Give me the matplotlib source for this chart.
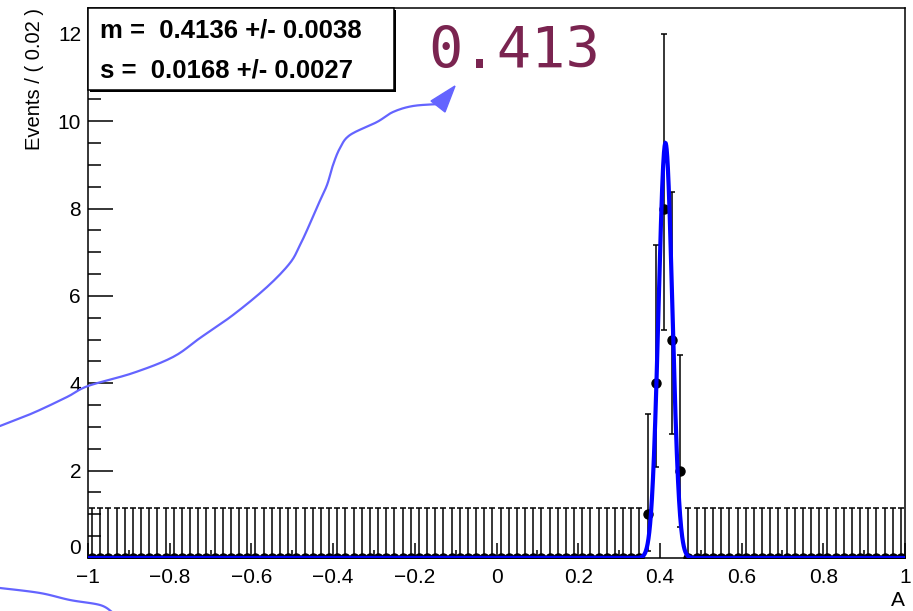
import matplotlib.pyplot as plt
import numpy as np
from matplotlib.patches import Rectangle, Polygon

plt.rcParams['font.family'] = ['Liberation Sans', 'DejaVu Sans']

# histogram of A, 100 bins of width 0.02 on [-1, 1]
bin_edges = np.linspace(-1, 1, 101)
peak_centers = [0.37, 0.39, 0.41, 0.43, 0.45]
peak_counts = [1, 4, 8, 5, 2]
peak_err_lo = [0.83, 1.91, 2.79, 2.16, 1.29]
peak_err_hi = [2.30, 3.16, 3.99, 3.38, 2.64]
empty_err_hi = 1.15

# gaussian fit result
m_fit, m_err = 0.4136, 0.0038
s_fit, s_err = 0.0168, 0.0027

x_ticks = [-1, -0.8, -0.6, -0.4, -0.2, 0, 0.2, 0.4, 0.6, 0.8, 1]
x_ticklabels = ['\u22121', '\u22120.8', '\u22120.6', '\u22120.4', '\u22120.2',
                '0', '0.2', '0.4', '0.6', '0.8', '1']
y_ticks = [0, 2, 4, 6, 8, 10, 12]

# pen strokes drawn over the plot (figure pixels)
stroke_main = [(0, 426), (33, 413), (67, 397), (88, 386), (133, 373), (173, 357),
               (200, 338), (233, 315), (267, 287), (290, 263), (300, 245),
               (308, 228), (318, 205), (327, 185), (333, 165), (340, 148),
               (350, 135), (377, 122), (393, 112), (413, 106), (440, 104)]
stroke_low = [(0, 588), (40, 593), (70, 600), (100, 605), (112, 612)]
arrow_head = [(455, 86), (431, 101), (445, 112)]

W, H = 913, 611
fig = plt.figure(figsize=(W / 100, H / 100), dpi=100)
ax = fig.add_axes([88 / W, (H - 558) / H, (905 - 88) / W, (558 - 8) / H])

centers = 0.5 * (bin_edges[:-1] + bin_edges[1:])
counts = np.zeros(len(centers))
err_lo = np.zeros(len(centers))
err_hi = np.full(len(centers), empty_err_hi)
for c, n, lo, hi in zip(peak_centers, peak_counts, peak_err_lo, peak_err_hi):
    i = np.argmin(np.abs(centers - c))
    counts[i] = n
    err_lo[i] = lo
    err_hi[i] = hi

ax.errorbar(centers, counts, yerr=[err_lo, err_hi], fmt='o', color='black',
            ms=6.5, elinewidth=1.1, capsize=2.4, capthick=1.1, zorder=2)

xs = np.linspace(-1, 1, 4001)
norm = sum(peak_counts) * 0.02 / (s_fit * np.sqrt(2 * np.pi))
ax.plot(xs, norm * np.exp(-0.5 * ((xs - m_fit) / s_fit) ** 2), color='#0000ff',
        lw=3, zorder=3, solid_joinstyle='miter')

ax.set_xlim(-1, 1)
ax.set_ylim(0, 12.59)
ax.set_xticks(x_ticks)
ax.set_xticklabels(x_ticklabels)
ax.set_xticks(np.arange(-1, 1.001, 0.1), minor=True)
ax.set_yticks(y_ticks)
ax.set_yticks(np.arange(0, 12.6, 0.5), minor=True)
ax.tick_params(axis='both', which='both', direction='in', labelsize=15,
               width=1.1, top=False, right=False)
ax.tick_params(axis='y', which='major', length=18, pad=5)
ax.tick_params(axis='y', which='minor', length=9)
ax.tick_params(axis='x', which='major', length=11, pad=7)
ax.tick_params(axis='x', which='minor', length=5.5)
ax.get_yticklabels()[0].set_verticalalignment('bottom')
for sp in ax.spines.values():
    sp.set_linewidth(1.1)

ax.set_ylabel('Events / ( 0.02 )', fontsize=14.5, loc='top', labelpad=10)
ax.set_xlabel('A', fontsize=15, loc='right', labelpad=3)

# overlay in figure pixels for the stat box and pen annotations
ov = fig.add_axes([0, 0, 1, 1])
ov.set_xlim(0, W)
ov.set_ylim(H, 0)
ov.axis('off')
ov.patch.set_alpha(0)

ov.add_patch(Rectangle((90, 10), 306, 82, facecolor='black', edgecolor='none', zorder=4))
ov.add_patch(Rectangle((88, 8), 306, 82, facecolor='white', edgecolor='black',
                       lw=1.1, zorder=5))
ov.text(100, 30, f'm =  {m_fit:.4f} +/- {m_err:.4f}', fontsize=18.5, fontweight='bold',
        va='center', ha='left', zorder=6)
ov.text(100, 70, f's =  {s_fit:.4f} +/- {s_err:.4f}', fontsize=18.5, fontweight='bold',
        va='center', ha='left', zorder=6)


def smooth(pts, k=12):
    # catmull-rom through the pen points
    p = np.array(pts, dtype=float)
    p = np.vstack([p[0], p, p[-1]])
    out = []
    for i in range(1, len(p) - 2):
        p0, p1, p2, p3 = p[i - 1], p[i], p[i + 1], p[i + 2]
        for t in np.linspace(0, 1, k, endpoint=False):
            t2, t3 = t * t, t * t * t
            out.append(0.5 * ((2 * p1) + (-p0 + p2) * t + (2 * p0 - 5 * p1 + 4 * p2 - p3) * t2
                              + (-p0 + 3 * p1 - 3 * p2 + p3) * t3))
    out.append(p[-2])
    return np.array(out)


pen = '#6464ff'
for stroke in (stroke_main, stroke_low):
    s = smooth(stroke)
    ov.plot(s[:, 0], s[:, 1], color=pen, lw=1.6, zorder=7, solid_capstyle='round')
ov.add_patch(Polygon(arrow_head, closed=True, facecolor=pen, edgecolor=pen, zorder=7))

ov.text(428, 68, '0.413', fontsize=41, family='DejaVu Sans Mono', color='#7a2450',
        ha='left', va='baseline', zorder=7)

fig.savefig('out.png', dpi=100)
